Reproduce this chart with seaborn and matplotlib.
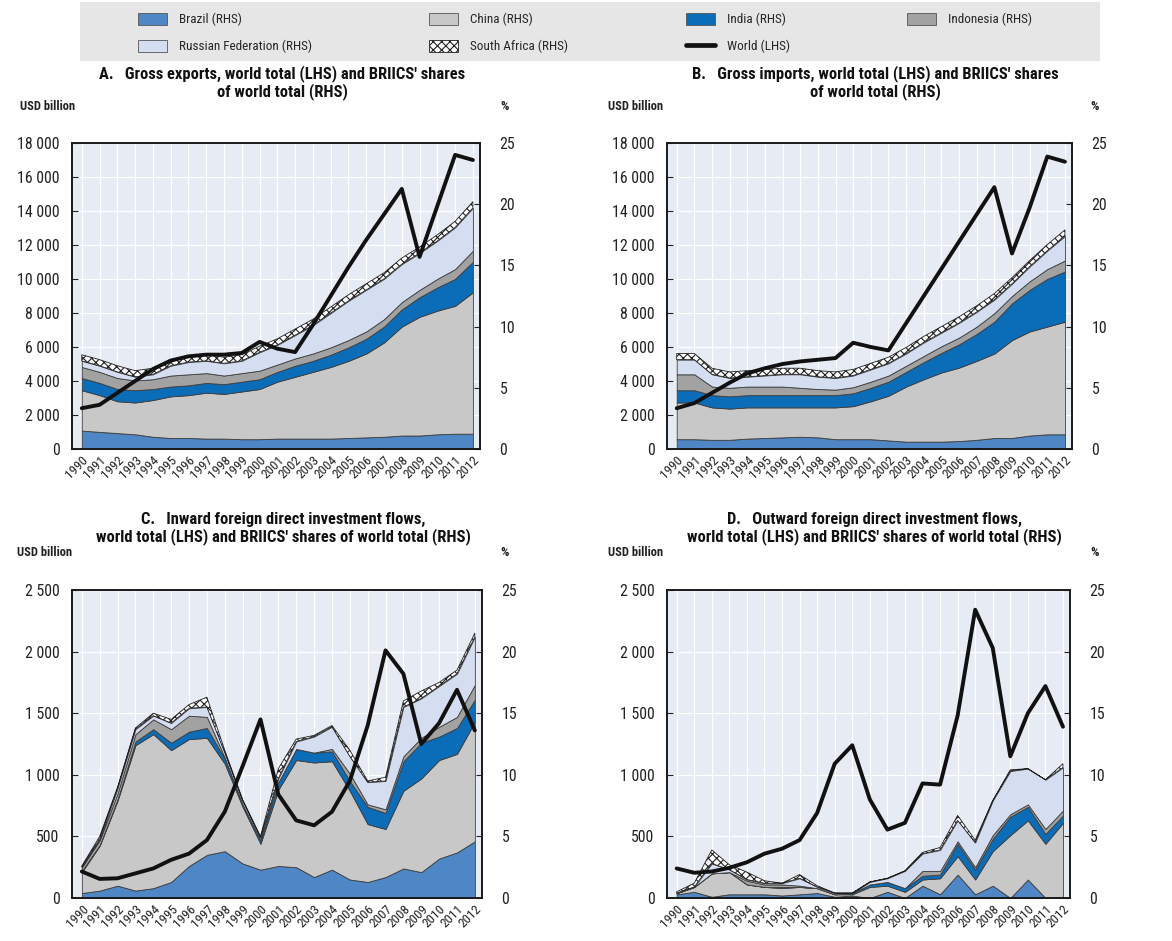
import numpy as np
import matplotlib
matplotlib.use("Agg")
import matplotlib.pyplot as plt
import seaborn as sns
from matplotlib import font_manager
from matplotlib.patches import Patch, Rectangle
from matplotlib.lines import Line2D

# ---------------- data ----------------
years = list(range(1990, 2013))

# Panel A: gross exports
world_exports = [2400, 2600, 3300, 4000, 4700, 5200, 5450, 5550, 5550, 5650, 6300, 5900,
                 5700, 7300, 9000, 10700, 12300, 13800, 15300, 11300, 14300, 17300, 17000]
a_brazil = [1.5, 1.4, 1.3, 1.2, 1.0, 0.9, 0.9, 0.85, 0.85, 0.8, 0.8, 0.85, 0.85, 0.85, 0.85,
            0.9, 0.95, 1.0, 1.1, 1.1, 1.2, 1.25, 1.25]
a_china = [3.3, 3.0, 2.6, 2.6, 3.0, 3.4, 3.5, 3.75, 3.65, 3.9, 4.1, 4.65, 5.05, 5.45, 5.85,
           6.3, 6.85, 7.7, 8.9, 9.7, 10.1, 10.45, 11.55]
a_india = [1.0, 1.0, 1.0, 1.0, 0.9, 0.8, 0.8, 0.8, 0.8, 0.8, 0.8, 0.8, 0.9, 0.9, 1.0, 1.1,
           1.2, 1.3, 1.4, 1.6, 1.9, 2.2, 2.5]
a_indonesia = [0.9, 0.9, 0.9, 0.8, 0.8, 0.9, 0.9, 0.8, 0.7, 0.7, 0.7, 0.6, 0.6, 0.6, 0.6, 0.6,
               0.6, 0.6, 0.6, 0.6, 0.7, 0.8, 0.9]
a_russia = [0.5, 0.5, 0.5, 0.3, 0.4, 0.8, 1.0, 1.0, 1.0, 1.0, 1.5, 1.6, 1.9, 2.3, 2.8, 3.2,
            3.4, 3.3, 3.1, 3.0, 3.1, 3.4, 3.5]
a_safrica = [0.5, 0.5, 0.5, 0.5, 0.5, 0.5, 0.5, 0.5, 0.5, 0.5, 0.5, 0.5, 0.5, 0.5, 0.5, 0.5,
             0.5, 0.5, 0.5, 0.5, 0.5, 0.5, 0.5]

# Panel B: gross imports
world_imports = [2400, 2700, 3300, 3900, 4450, 4750, 5000, 5150, 5250, 5350, 6250, 6000,
                 5800, 7400, 9000, 10600, 12200, 13800, 15400, 11500, 14200, 17200, 16900]
b_brazil = [0.8, 0.8, 0.75, 0.75, 0.85, 0.9, 0.95, 1.0, 0.95, 0.8, 0.8, 0.8, 0.7, 0.6, 0.6,
            0.6, 0.65, 0.75, 0.9, 0.9, 1.1, 1.2, 1.2]
b_china = [3.0, 3.0, 2.65, 2.55, 2.55, 2.5, 2.45, 2.4, 2.45, 2.6, 2.7, 3.1, 3.65, 4.5, 5.1,
           5.65, 6.0, 6.45, 6.9, 8.0, 8.5, 8.8, 9.2]
b_india = [1.0, 1.0, 1.0, 1.0, 1.0, 1.0, 1.0, 1.0, 1.0, 1.0, 1.05, 1.1, 1.15, 1.2, 1.4, 1.6,
           1.9, 2.2, 2.6, 3.0, 3.4, 3.9, 4.1]
b_indonesia = [1.3, 1.3, 0.7, 0.7, 0.7, 0.7, 0.7, 0.6, 0.5, 0.45, 0.5, 0.5, 0.5, 0.5, 0.5,
               0.55, 0.55, 0.6, 0.7, 0.6, 0.7, 0.8, 0.9]
b_russia = [1.2, 1.2, 1.0, 0.8, 0.8, 0.9, 1.0, 1.1, 1.0, 0.95, 0.95, 1.0, 1.0, 1.0, 1.1, 1.1,
            1.2, 1.2, 1.1, 1.0, 1.2, 1.5, 2.0]
b_safrica = [0.5, 0.5, 0.5, 0.5, 0.5, 0.5, 0.5, 0.5, 0.5, 0.5, 0.5, 0.5, 0.5, 0.5, 0.5, 0.5,
             0.5, 0.5, 0.5, 0.5, 0.5, 0.5, 0.5]

# Panel C: inward FDI
world_fdi_in = [215, 155, 160, 200, 240, 310, 360, 470, 700, 1070, 1450, 840, 630, 590, 700,
                950, 1400, 2010, 1820, 1250, 1420, 1690, 1360]
c_brazil = [0.4, 0.6, 1.0, 0.6, 0.8, 1.3, 2.6, 3.5, 3.8, 2.8, 2.3, 2.6, 2.5, 1.7, 2.3, 1.5,
            1.3, 1.7, 2.4, 2.1, 3.2, 3.7, 4.6]
c_china = [1.7, 3.65, 6.9, 11.8, 12.5, 10.7, 10.3, 9.5, 7.1, 4.6, 2.1, 6.2, 8.7, 9.3, 8.8,
           7.2, 4.7, 3.9, 6.3, 7.6, 8.0, 8.0, 9.7]
c_india = [0.1, 0.05, 0.1, 0.3, 0.4, 0.6, 0.6, 0.8, 0.4, 0.2, 0.3, 0.6, 0.9, 0.8, 0.8, 0.8,
           1.4, 1.3, 2.4, 2.9, 1.9, 2.1, 1.8]
c_indonesia = [0.3, 0.4, 0.5, 0.6, 0.8, 1.1, 1.3, 0.9, 0.1, 0.0, 0.0, 0.0, 0.0, 0.0, 0.2, 0.6,
               0.2, 0.3, 0.4, 0.4, 0.8, 0.9, 1.2]
c_russia = [0.0, 0.1, 0.4, 0.4, 0.3, 0.5, 0.6, 0.8, 0.4, 0.3, 0.2, 0.3, 0.6, 1.3, 1.8, 1.4,
            1.8, 2.3, 4.0, 3.2, 3.3, 3.5, 3.9]
c_safrica = [0.1, 0.2, 0.1, 0.1, 0.2, 0.3, 0.3, 0.8, 0.2, 0.1, 0.1, 0.8, 0.2, 0.1, 0.1, 0.5,
             0.1, 0.3, 0.5, 0.6, 0.3, 0.3, 0.3]

# Panel D: outward FDI
world_fdi_out = [240, 205, 215, 245, 290, 360, 400, 470, 690, 1090, 1240, 800, 555, 610, 930,
                 920, 1480, 2340, 2030, 1150, 1500, 1720, 1390]
d_brazil = [0.3, 0.5, 0.1, 0.3, 0.3, 0.3, 0.2, 0.3, 0.4, 0.1, 0.2, 0.0, 0.5, 0.0, 1.0, 0.3,
            1.9, 0.3, 1.0, 0.0, 1.5, 0.0, 0.0]
d_china = [0.1, 0.4, 1.9, 1.8, 0.8, 0.6, 0.6, 0.6, 0.4, 0.2, 0.1, 0.9, 0.5, 0.5, 0.5, 1.3,
           1.5, 1.2, 2.8, 5.1, 4.8, 4.4, 6.1]
d_india = [0.0, 0.0, 0.0, 0.0, 0.0, 0.0, 0.1, 0.0, 0.0, 0.0, 0.1, 0.2, 0.3, 0.3, 0.3, 0.3,
           1.0, 0.8, 1.0, 1.5, 1.1, 0.8, 0.6]
d_indonesia = [0.0, 0.0, 0.0, 0.0, 0.3, 0.2, 0.2, 0.1, 0.0, 0.0, 0.0, 0.0, 0.0, 0.0, 0.4, 0.3,
               0.2, 0.2, 0.3, 0.2, 0.2, 0.4, 0.4]
d_russia = [0.0, 0.0, 0.8, 0.2, 0.1, 0.1, 0.1, 0.6, 0.1, 0.1, 0.0, 0.2, 0.3, 1.4, 1.4, 1.7,
            1.7, 2.0, 2.8, 3.5, 2.9, 4.0, 3.5]
d_safrica = [0.1, 0.3, 1.1, 0.4, 0.6, 0.2, 0.0, 0.3, 0.1, 0.0, 0.0, 0.0, 0.0, 0.0, 0.1, 0.2,
             0.4, 0.2, 0.0, 0.1, 0.0, 0.0, 0.3]

series_labels = ["Brazil (RHS)", "China (RHS)", "India (RHS)", "Indonesia (RHS)",
                 "Russian Federation (RHS)", "South Africa (RHS)"]
world_label = "World (LHS)"

titles = [
    "A.   Gross exports, world total (LHS) and BRIICS' shares\nof world total (RHS)",
    "B.   Gross imports, world total (LHS) and BRIICS' shares\nof world total (RHS)",
    "C.   Inward foreign direct investment flows,\nworld total (LHS) and BRIICS' shares of world total (RHS)",
    "D.   Outward foreign direct investment flows,\nworld total (LHS) and BRIICS' shares of world total (RHS)",
]

# ---------------- style ----------------
sns.set_theme(style="white")
fonts = font_manager.fontManager.ttflist
names = {f.name for f in fonts}
STRETCH = "normal"
if "Liberation Sans Narrow" in names:
    FAM, S = "Liberation Sans Narrow", 1.0
elif "Roboto Condensed" in names:
    FAM, S = "Roboto Condensed", 0.95
elif any(f.name == "DejaVu Sans" and str(f.stretch) in ("condensed", "semi-condensed")
         for f in fonts):
    FAM, S, STRETCH = "DejaVu Sans", 0.88, "condensed"
else:
    FAM, S = "DejaVu Sans", 0.82
plt.rcParams["font.family"] = [FAM, "DejaVu Sans"]
plt.rcParams["font.stretch"] = STRETCH
plt.rcParams["hatch.linewidth"] = 0.8

BG = "#e6ebf4"
COLORS = ["#4f86c6", "#c8c8c8", "#0b6cb8", "#a2a2a2", "#d5def1", "white"]
EDGE = "#3c3c3c"

W, H = 1172, 941
fig = plt.figure(figsize=(W / 100, H / 100), dpi=100)
fig.patch.set_facecolor("white")


def fx(px):
    return px / W


def fy(py):
    return 1 - py / H


def fmt(v):
    return f"{int(v):,}".replace(",", " ")


def panel(box, title, title_y, world, shares, lhs_max, lhs_step, unit_pos, pct_x):
    x0, y0, x1, y1 = box
    ax = fig.add_axes([fx(x0), fy(y1), fx(x1) - fx(x0), (y1 - y0) / H])
    ax.set_facecolor(BG)
    x = np.arange(len(years))
    lhs_ticks = np.arange(0, lhs_max + 1, lhs_step)
    for xv in x:
        ax.axvline(xv, color="white", lw=0.9, zorder=0.5)
    for t in lhs_ticks:
        ax.axhline(t * 25 / lhs_max, color="white", lw=0.9, zorder=0.5)
    polys = ax.stackplot(x, *shares, colors=COLORS, edgecolor=EDGE, linewidth=0.6, zorder=2)
    polys[5].set_hatch("xxxx")
    polys[5].set_edgecolor("#202020")
    ax.set_ylim(0, 25)
    ax.set_xlim(-0.55, len(years) - 1 + 0.4)

    axl = ax.twinx()
    sns.lineplot(x=x, y=world, ax=axl, color="#111111", lw=2.8, zorder=5, legend=False)
    axl.set_ylim(0, lhs_max)
    axl.set_yticks(lhs_ticks)
    axl.set_yticklabels([fmt(t) for t in lhs_ticks], fontsize=12 * S)
    axl.yaxis.tick_left()
    axl.set_ylabel("")

    ax.yaxis.tick_right()
    ax.set_yticks(range(0, 26, 5))
    ax.set_yticklabels([str(v) for v in range(0, 26, 5)], fontsize=12 * S)
    ax.set_xticks(x)
    ax.set_xticklabels([str(y) for y in years], rotation=45, ha="right",
                       rotation_mode="anchor", fontsize=10 * S)
    for a in (ax, axl):
        a.tick_params(direction="in", length=4, width=0.8, colors="#222222", pad=5)
        for sp in a.spines.values():
            sp.set_color("#1a1a1a")
            sp.set_linewidth(1.2)
    ax.tick_params(axis="y", pad=14)
    axl.tick_params(axis="y", pad=9)
    ax.tick_params(axis="x", pad=3)

    cx = (x0 + x1) / 2 + 6
    fig.text(fx(cx), fy(title_y), title, ha="center", va="top", fontsize=12.5 * S,
             fontweight="bold", linespacing=1.05, color="#111111")
    fig.text(fx(unit_pos[0]), fy(unit_pos[1]), "USD billion", ha="left", va="center",
             fontsize=9.5 * S, fontweight="bold", color="#222222")
    fig.text(fx(pct_x), fy(unit_pos[1]), "%", ha="left", va="center",
             fontsize=10 * S, fontweight="bold", color="#222222")
    return ax


panel((72, 143, 480, 449), titles[0], 65, world_exports,
      [a_brazil, a_china, a_india, a_indonesia, a_russia, a_safrica], 18000, 2000, (20, 106), 500)
panel((667, 143, 1072, 449), titles[1], 65, world_imports,
      [b_brazil, b_china, b_india, b_indonesia, b_russia, b_safrica], 18000, 2000, (608, 106), 1090)
panel((72, 590, 482, 898), titles[2], 512, world_fdi_in,
      [c_brazil, c_china, c_india, c_indonesia, c_russia, c_safrica], 2500, 500, (17, 553), 500)
panel((667, 590, 1070, 898), titles[3], 512, world_fdi_out,
      [d_brazil, d_china, d_india, d_indonesia, d_russia, d_safrica], 2500, 500, (608, 553), 1090)

# ---------------- legend ----------------
fig.patches.append(Rectangle((fx(80), fy(61)), fx(1100) - fx(80), 59 / H,
                             transform=fig.transFigure, facecolor="#e6e6e6",
                             edgecolor="none", zorder=0))
handles = []
for lab, col in zip(series_labels, COLORS):
    if lab.startswith("South"):
        handles.append(Patch(facecolor="white", edgecolor="#202020", hatch="xxxx", lw=0.6, label=lab))
    else:
        handles.append(Patch(facecolor=col, edgecolor="#555555", lw=0.6, label=lab))
handles.append(Line2D([0], [0], color="#111111", lw=3.4, label=world_label))
order = [0, 4, 1, 5, 2, 6, 3]
leg = fig.legend([handles[i] for i in order], [handles[i].get_label() for i in order],
                 loc="center left", bbox_to_anchor=(fx(138), fy(55), fx(1032) - fx(138), 44 / H),
                 mode="expand", ncol=4, frameon=False, borderaxespad=0,
                 fontsize=10 * S, handlelength=2.2, handleheight=1.1, handletextpad=0.9,
                 columnspacing=1.0, borderpad=0.0, labelspacing=1.0)

fig.savefig("out.png", dpi=100, facecolor="white")
